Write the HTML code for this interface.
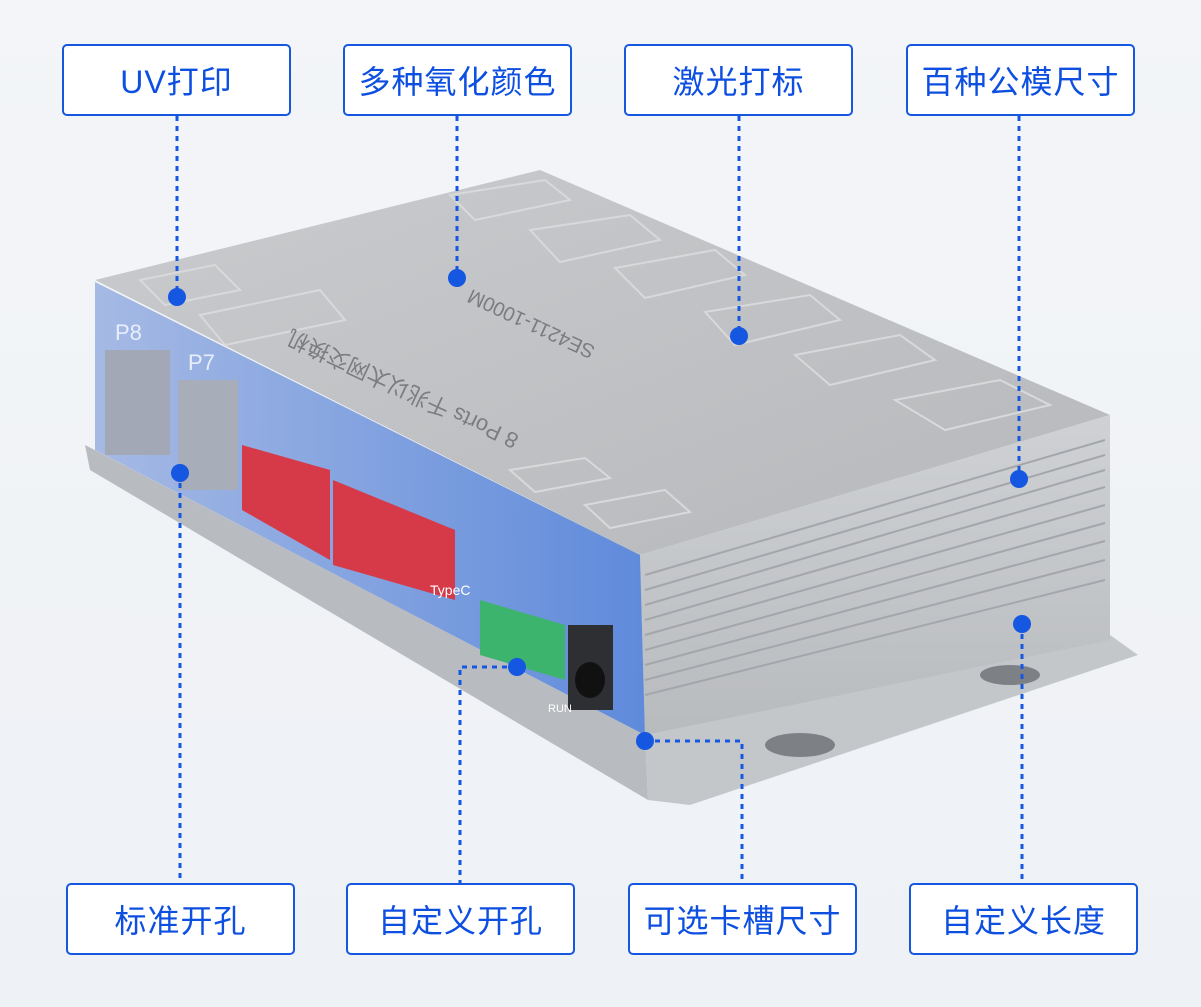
<!DOCTYPE html>
<html><head><meta charset="utf-8"><style>
body{margin:0;width:1201px;height:1007px;overflow:hidden;background:linear-gradient(180deg,#f3f5f8,#eef1f5);font-family:"Liberation Sans","Noto Sans CJK SC",sans-serif;position:relative}
.b{position:absolute;box-sizing:border-box;width:229px;height:72px;background:#fff;border:2px solid #1557e0;border-radius:5px;color:#0d4fe0;font-size:32px;display:flex;align-items:center;justify-content:center;letter-spacing:1px}
svg{position:absolute;left:0;top:0}
</style></head><body>
<svg width="1201" height="1007">
<defs>
<linearGradient id="top" x1="0" y1="0" x2="1" y2="1"><stop offset="0" stop-color="#c9cbce"/><stop offset="1" stop-color="#b6b8bb"/></linearGradient>
<linearGradient id="side" x1="0" y1="0" x2="0" y2="1"><stop offset="0" stop-color="#cfd1d4"/><stop offset="1" stop-color="#b8bbbe"/></linearGradient>
<linearGradient id="front" x1="0" y1="0" x2="1" y2="0"><stop offset="0" stop-color="#9db3e2"/><stop offset="1" stop-color="#4f7fd8"/></linearGradient>
</defs>
<polygon points="85,445 645,735 648,800 90,470" fill="#b8bbbf"/>
<polygon points="645,735 1110,635 1138,655 690,805 648,800" fill="#c4c7ca"/>
<ellipse cx="800" cy="745" rx="35" ry="12" fill="#7d8085"/>
<ellipse cx="1010" cy="675" rx="30" ry="10" fill="#7d8085"/>
<polygon points="95,280 540,170 1110,415 640,555" fill="url(#top)"/>
<g fill="none" stroke="#d8d9db" stroke-width="2">
<polygon points="450,195 545,180 570,200 475,220"/>
<polygon points="530,230 630,215 660,240 560,262"/>
<polygon points="615,268 715,250 745,275 645,298"/>
<polygon points="705,312 810,295 840,320 735,345"/>
<polygon points="795,355 900,335 935,360 830,385"/>
<polygon points="895,400 1000,380 1050,405 945,430"/>
<polygon points="510,470 585,458 610,478 535,492"/>
<polygon points="585,505 665,490 690,512 610,528"/>
<polygon points="140,280 215,265 240,290 165,305"/>
<polygon points="200,315 320,290 345,320 225,345"/>
</g>
<polygon points="640,555 1110,415 1110,640 645,735" fill="url(#side)"/>
<g stroke="#a3a6aa" stroke-width="2">
<line x1="645" y1="575" x2="1105" y2="440"/><line x1="645" y1="590" x2="1105" y2="455"/><line x1="645" y1="605" x2="1105" y2="470"/><line x1="645" y1="620" x2="1105" y2="487"/><line x1="645" y1="635" x2="1105" y2="505"/><line x1="645" y1="650" x2="1105" y2="523"/><line x1="645" y1="665" x2="1105" y2="541"/><line x1="645" y1="680" x2="1105" y2="560"/><line x1="645" y1="695" x2="1105" y2="580"/>
</g>
<polygon points="95,282 640,555 645,735 95,450" fill="url(#front)" opacity="0.9"/>
<rect x="105" y="350" width="65" height="105" fill="#a2a8b6"/>
<rect x="178" y="380" width="60" height="110" fill="#a7adb9"/>
<polygon points="242,445 330,470 330,560 242,510" fill="#d63a48"/>
<polygon points="333,480 455,530 455,600 333,565" fill="#d63a48"/>
<polygon points="480,600 565,625 565,680 480,655" fill="#3cb46e"/>
<rect x="568" y="625" width="45" height="85" fill="#2d2f33"/>
<ellipse cx="590" cy="680" rx="15" ry="18" fill="#111"/>
<text x="115" y="340" fill="#e8eefc" font-size="22">P8</text>
<text x="188" y="370" fill="#e8eefc" font-size="22">P7</text>
<text x="430" y="595" fill="#fff" font-size="14">TypeC</text>
<text x="548" y="712" fill="#fff" font-size="11">RUN</text>
<text x="450" y="300" fill="#7a7c80" font-size="22" transform="rotate(205 500 360)">8 Ports 千兆以太网交换机</text>
<text x="520" y="330" fill="#7a7c80" font-size="20" transform="rotate(205 560 330)">SE4211-1000M</text>
<g stroke="#1557e0" stroke-width="3" stroke-dasharray="5,5" fill="none">
<line x1="177" y1="116" x2="177" y2="297"/>
<line x1="457" y1="116" x2="457" y2="278"/>
<line x1="739" y1="116" x2="739" y2="336"/>
<line x1="1019" y1="116" x2="1019" y2="479"/>
<line x1="180" y1="473" x2="180" y2="883"/>
<polyline points="517,667 460,667 460,883"/>
<polyline points="645,741 742,741 742,883"/>
<line x1="1022" y1="624" x2="1022" y2="883"/>
</g>
<g fill="#1557e0">
<circle cx="177" cy="297" r="9"/><circle cx="457" cy="278" r="9"/><circle cx="739" cy="336" r="9"/><circle cx="1019" cy="479" r="9"/>
<circle cx="180" cy="473" r="9"/><circle cx="517" cy="667" r="9"/><circle cx="645" cy="741" r="9"/><circle cx="1022" cy="624" r="9"/>
</g>
</svg>
<div class="b" style="left:62px;top:44px">UV打印</div>
<div class="b" style="left:343px;top:44px">多种氧化颜色</div>
<div class="b" style="left:624px;top:44px">激光打标</div>
<div class="b" style="left:906px;top:44px">百种公模尺寸</div>
<div class="b" style="left:66px;top:883px">标准开孔</div>
<div class="b" style="left:346px;top:883px">自定义开孔</div>
<div class="b" style="left:628px;top:883px">可选卡槽尺寸</div>
<div class="b" style="left:909px;top:883px">自定义长度</div>
</body></html>
